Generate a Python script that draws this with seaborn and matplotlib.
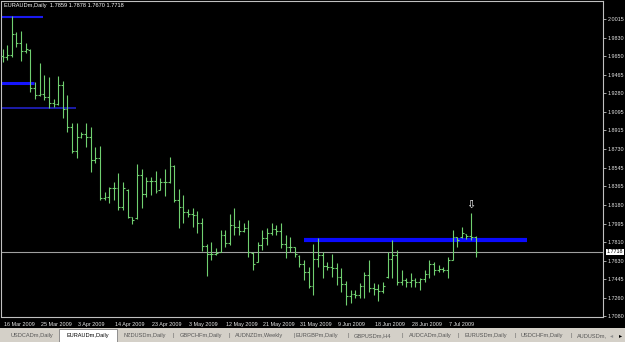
import matplotlib
matplotlib.use("Agg")
import matplotlib.pyplot as plt
import matplotlib.transforms as mtransforms
from matplotlib.patches import Rectangle
import seaborn as sns
import pandas as pd

chart_title = "EURAUDm,Daily  1.7859 1.7878 1.7670 1.7718"

opens = [1.9650, 1.9640, 1.9660, 1.9870, 1.9780, 1.9700, 1.9710, 1.9330, 1.9260, 1.9270,
         1.9250, 1.9190, 1.9180, 1.9360, 1.9130, 1.8950, 1.8710, 1.8850, 1.8880, 1.8850,
         1.8620, 1.8640, 1.8250, 1.8260, 1.8350, 1.8350, 1.8160, 1.8330, 1.8060, 1.8050,
         1.8480, 1.8290, 1.8420, 1.8420, 1.8330, 1.8410, 1.8410, 1.8560, 1.8230, 1.8160,
         1.8110, 1.8090, 1.8080, 1.8000, 1.7775, 1.7700, 1.7700, 1.7720, 1.7880, 1.7800,
         1.7980, 1.7960, 1.7920, 1.7950, 1.7710, 1.7620, 1.7780, 1.7850, 1.7900, 1.7940,
         1.7920, 1.7790, 1.7760, 1.7760, 1.7680, 1.7600, 1.7520, 1.7380, 1.7650, 1.7690,
         1.7580, 1.7570, 1.7560, 1.7470, 1.7400, 1.7280, 1.7300, 1.7290, 1.7380, 1.7490,
         1.7360, 1.7350, 1.7330, 1.7470, 1.7650, 1.7690, 1.7420, 1.7440, 1.7420, 1.7440,
         1.7420, 1.7450, 1.7500, 1.7600, 1.7540, 1.7550, 1.7540, 1.7640, 1.7860, 1.7860,
         1.7890, 1.7870, 1.7859]
highs = [1.9716, 1.9758, 2.0045, 1.9890, 1.9900, 1.9775, 1.9716, 1.9396, 1.9578, 1.9462,
         1.9446, 1.9222, 1.9455, 1.9403, 1.9265, 1.8991, 1.8991, 1.8903, 1.8988, 1.8952,
         1.8755, 1.8762, 1.8311, 1.8360, 1.8409, 1.8495, 1.8409, 1.8337, 1.8061, 1.8584,
         1.8535, 1.8459, 1.8459, 1.8518, 1.8446, 1.8535, 1.8653, 1.8574, 1.8337, 1.8278,
         1.8140, 1.8150, 1.8120, 1.8054, 1.7794, 1.7817, 1.7755, 1.7932, 1.7932, 1.8090,
         1.8150, 1.8031, 1.8002, 1.8031, 1.7715, 1.7817, 1.7932, 1.7952, 1.8001, 1.7982,
         1.8001, 1.7883, 1.7866, 1.7768, 1.7686, 1.7636, 1.7570, 1.7794, 1.7853, 1.7718,
         1.7617, 1.7696, 1.7607, 1.7557, 1.7429, 1.7340, 1.7340, 1.7409, 1.7521, 1.7636,
         1.7409, 1.7399, 1.7422, 1.7718, 1.7834, 1.7735, 1.7538, 1.7459, 1.7508, 1.7459,
         1.7459, 1.7538, 1.7636, 1.7619, 1.7587, 1.7570, 1.7669, 1.7932, 1.7867, 1.7965,
         1.7897, 1.8103, 1.7878]
lows = [1.9594, 1.9610, 1.9643, 1.9742, 1.9603, 1.9676, 1.9297, 1.9222, 1.9255, 1.9216,
        1.9134, 1.9149, 1.9166, 1.9035, 1.8903, 1.8695, 1.8640, 1.8838, 1.8755, 1.8508,
        1.8591, 1.8228, 1.8228, 1.8196, 1.8228, 1.8130, 1.8130, 1.8051, 1.7991, 1.8041,
        1.8150, 1.8261, 1.8278, 1.8295, 1.8327, 1.8268, 1.8396, 1.8212, 1.7952, 1.8001,
        1.8064, 1.7962, 1.7903, 1.7728, 1.7478, 1.7636, 1.7686, 1.7718, 1.7768, 1.7784,
        1.7883, 1.7883, 1.7913, 1.7669, 1.7538, 1.7617, 1.7735, 1.7784, 1.7883, 1.7883,
        1.7755, 1.7656, 1.7718, 1.7669, 1.7570, 1.7439, 1.7360, 1.7291, 1.7570, 1.7459,
        1.7538, 1.7469, 1.7390, 1.7320, 1.7192, 1.7212, 1.7261, 1.7261, 1.7261, 1.7324,
        1.7291, 1.7231, 1.7311, 1.7459, 1.7459, 1.7390, 1.7390, 1.7373, 1.7373, 1.7373,
        1.7340, 1.7422, 1.7459, 1.7488, 1.7521, 1.7521, 1.7459, 1.7636, 1.7768, 1.7851,
        1.7840, 1.7834, 1.7670]
closes = [1.9640, 1.9660, 1.9870, 1.9780, 1.9700, 1.9720, 1.9330, 1.9260, 1.9270, 1.9250,
          1.9190, 1.9180, 1.9360, 1.9130, 1.8950, 1.8710, 1.8850, 1.8880, 1.8850, 1.8620,
          1.8640, 1.8250, 1.8260, 1.8350, 1.8350, 1.8160, 1.8350, 1.8060, 1.8030, 1.8480,
          1.8290, 1.8420, 1.8420, 1.8320, 1.8410, 1.8410, 1.8560, 1.8230, 1.8160, 1.8110,
          1.8090, 1.8080, 1.8000, 1.7775, 1.7700, 1.7700, 1.7705, 1.7880, 1.7800, 1.7980,
          1.7960, 1.7920, 1.7950, 1.7720, 1.7600, 1.7780, 1.7850, 1.7900, 1.7940, 1.7920,
          1.7790, 1.7760, 1.7760, 1.7700, 1.7600, 1.7520, 1.7380, 1.7650, 1.7690, 1.7580,
          1.7570, 1.7560, 1.7470, 1.7400, 1.7280, 1.7300, 1.7290, 1.7380, 1.7490, 1.7360,
          1.7350, 1.7330, 1.7380, 1.7650, 1.7690, 1.7420, 1.7440, 1.7420, 1.7440, 1.7420,
          1.7450, 1.7500, 1.7600, 1.7540, 1.7550, 1.7540, 1.7640, 1.7860, 1.7830, 1.7900,
          1.7870, 1.7859, 1.7718]

date_labels = ["16 Mar 2009", "25 Mar 2009", "3 Apr 2009", "14 Apr 2009", "23 Apr 2009",
               "3 May 2009", "12 May 2009", "21 May 2009", "31 May 2009", "9 Jun 2009",
               "18 Jun 2009", "28 Jun 2009", "7 Jul 2009"]
date_label_bars = [0, 8, 16, 24, 32, 40, 48, 56, 64, 72, 80, 88, 96]

price_tick_values = [2.0015, 1.9830, 1.9650, 1.9465, 1.9280, 1.9095, 1.8915, 1.8730,
                     1.8545, 1.8365, 1.8180, 1.7995, 1.7810, 1.7630, 1.7445, 1.7260, 1.7080]
current_price = 1.7718

level_prices = [2.0038, 1.9386, 1.9139, 1.7834]
level_start_bars = [-0.5, -0.5, -0.5, 65.0]
level_end_bars = [8.7, 6.8, 15.8, 113.0]

arrow_bar = 101
arrow_price = 1.8178

tab_names = ["USDCADm,Daily", "EURAUDm,Daily", "NZDUSDm,Daily", "GBPCHFm,Daily",
             "AUDNZDm,Weekly", "EURGBPm,Daily", "GBPUSDm,H4", "AUDCADm,Daily",
             "EURUSDm,Daily", "USDCHFm,Daily", "AUDUSDm,"]
active_tab = "EURAUDm,Daily"

# ---------------- styling / layout ----------------
sns.set_theme(style="dark")
plt.rcParams["font.family"] = ["Liberation Sans", "DejaVu Sans"]

W, H = 625, 342
BAR_COLOR = "#70d070"
FRAME = "#c0c0c0"
FS = 3.9

df = pd.DataFrame({"bar": range(len(opens)), "open": opens, "high": highs,
                   "low": lows, "close": closes})

fig = plt.figure(figsize=(W / 100, H / 100), dpi=100, facecolor="black")
ax_l, ax_r, ax_b, ax_t = 1.5, 603, 317, 1
ax = fig.add_axes([ax_l / W, 1 - ax_b / H, (ax_r - ax_l) / W, (ax_b - ax_t) / H])
ax.set_facecolor("black")
ax.grid(False)

px_per_bar = 4.64
x0_px = 2.5
ax.set_xlim((ax_l - x0_px) / px_per_bar, (ax_r - x0_px) / px_per_bar)
ppp = 0.000987
ax.set_ylim(2.0015 - (ax_b - 19) * ppp, 2.0015 + (19 - ax_t) * ppp)

# OHLC bars
ax.vlines(df["bar"], df["low"], df["high"], color=BAR_COLOR, linewidth=0.8, zorder=3)
ax.hlines(df["open"], df["bar"] - 0.4, df["bar"], color=BAR_COLOR, linewidth=0.8, zorder=3)
ax.hlines(df["close"], df["bar"], df["bar"] + 0.4, color=BAR_COLOR, linewidth=0.8, zorder=3)

# horizontal levels
level_styles = [dict(color="#1a1af0", lw=1.5), dict(color="#1515ff", lw=2.2),
                dict(color="#1c1ca8", lw=1.4), dict(color="#0a0aff", lw=3.0)]
for p, s, e, st in zip(level_prices, level_start_bars, level_end_bars, level_styles):
    ax.hlines(p, s, e, colors=st["color"], linewidth=st["lw"], zorder=2)

# current price line
ax.axhline(current_price, color="#a0a0a0", linewidth=0.8, zorder=1)

# arrow above spike
ax.text(arrow_bar, arrow_price, "\u21e9", color="white", fontsize=8, ha="center",
        va="center", family=["DejaVu Sans"], zorder=4)

# axes
for sp in ax.spines.values():
    sp.set_color(FRAME)
    sp.set_linewidth(0.8)
ax.yaxis.tick_right()
ax.set_yticks(price_tick_values)
ax.set_yticklabels([f"{v:.4f}" for v in price_tick_values])
ax.tick_params(axis="y", length=2, width=0.6, color=FRAME, pad=1.2, labelsize=FS,
               labelcolor="#e6e6e6", direction="out")
ax.set_xticks(date_label_bars)
ax.set_xticklabels(date_labels)
ax.tick_params(axis="x", length=3, width=0.6, color=FRAME, pad=0.8, labelsize=FS,
               labelcolor="#e6e6e6", direction="out")
offset = mtransforms.ScaledTranslation(1 / 100, 0, fig.dpi_scale_trans)
for lab in ax.get_xticklabels():
    lab.set_ha("left")
    lab.set_transform(lab.get_transform() + offset)

# current price tag
trans = mtransforms.blended_transform_factory(ax.transAxes, ax.transData)
ax.text(1.006, current_price, f"{current_price:.4f}", transform=trans, ha="left",
        va="center", fontsize=FS, color="black", clip_on=False,
        bbox=dict(facecolor="white", edgecolor="none", pad=0.5))

# title
fig.text(4.5 / W, 1 - 6 / H, chart_title, color="white", fontsize=4.1, ha="left",
         va="center")

# tab strip
fig.patches.append(Rectangle((0, 0), 1, 14 / H, transform=fig.transFigure,
                             facecolor="#d4d0c8", edgecolor="none", zorder=0))
tab_centers = [32, 88, 145, 201, 259, 317, 373, 430, 486, 542, 592]
seps = [173, 229, 294, 348, 402, 458, 515, 571]
TFS = 4.1
for name, cx in zip(tab_names, tab_centers):
    if name == active_tab:
        fig.patches.append(Rectangle((59 / W, 0), 58 / W, 13.5 / H, transform=fig.transFigure,
                                     facecolor="white", edgecolor="#808080", linewidth=0.6,
                                     zorder=1))
        fig.text(cx / W, 6.5 / H, name, color="black", fontsize=TFS, ha="center",
                 va="center", zorder=2)
    else:
        fig.text(cx / W, 6.5 / H, name, color="#555555", fontsize=TFS, ha="center",
                 va="center", zorder=2)
for sx in seps:
    fig.text(sx / W, 6.5 / H, "|", color="#606060", fontsize=TFS, ha="center", va="center")
fig.text(612 / W, 6.5 / H, "\u25c2", color="#909090", fontsize=4.5, ha="center",
         va="center", family=["DejaVu Sans"])
fig.text(621 / W, 6.5 / H, "\u25b8", color="black", fontsize=4.5, ha="center",
         va="center", family=["DejaVu Sans"])

fig.savefig("out.png", dpi=100, facecolor="black")
